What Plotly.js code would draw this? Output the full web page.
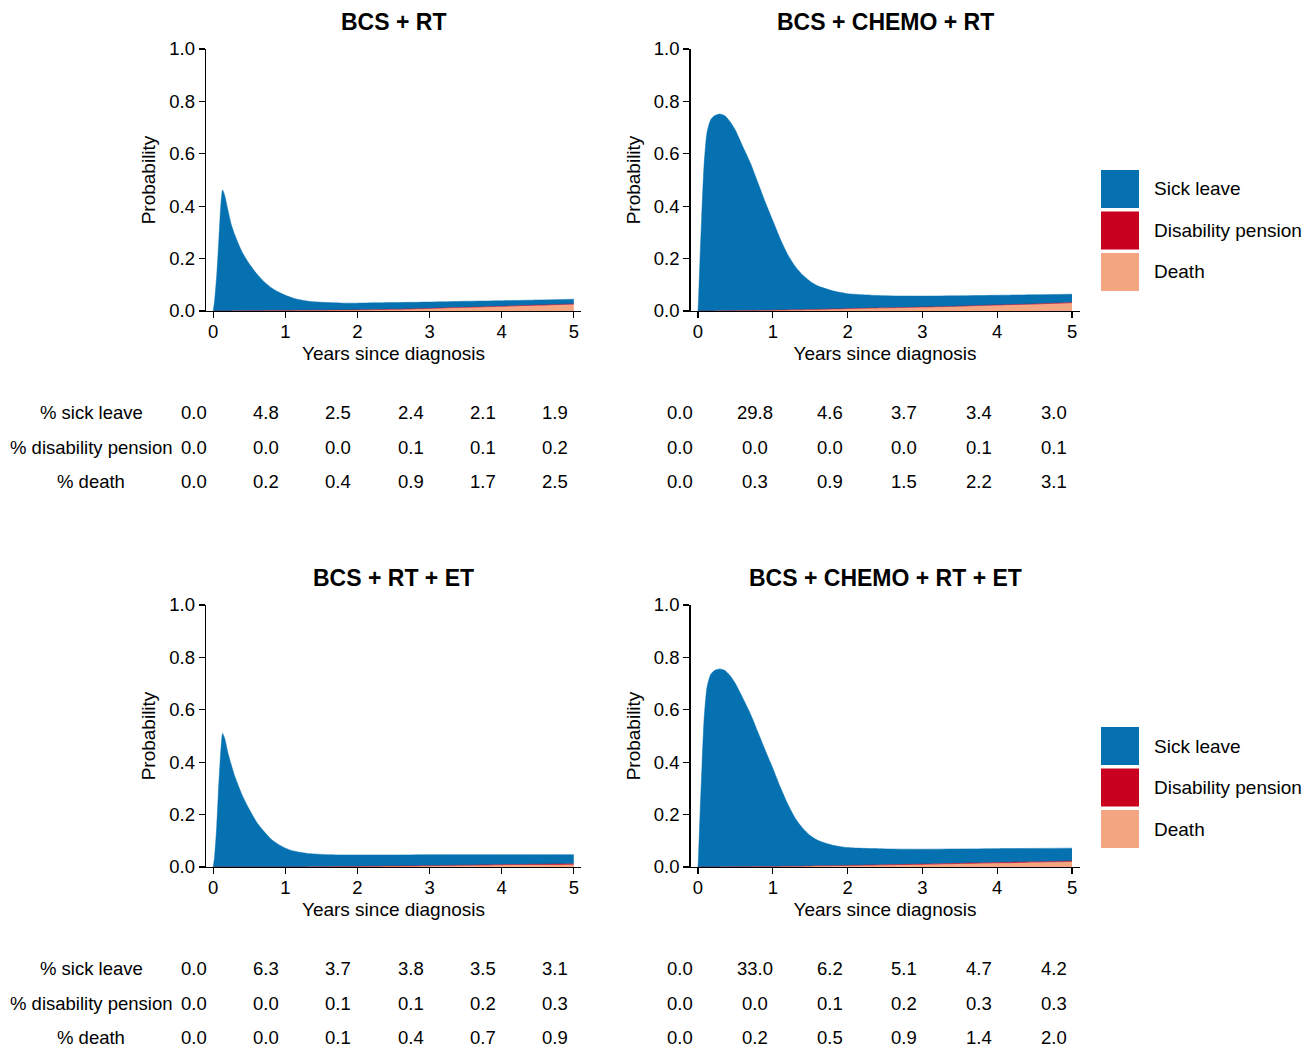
<!DOCTYPE html>
<html>
<head>
<meta charset="utf-8">
<script src="https://cdn.plot.ly/plotly-3.0.1.min.js"></script>
<style>html,body{margin:0;padding:0;background:#fff;}#chart{width:1314px;height:1050px;}</style>
</head>
<body>
<div id="chart"></div>
<script>
// ---------- DATA ----------
const panelTitles = ["BCS + RT", "BCS + CHEMO + RT", "BCS + RT + ET", "BCS + CHEMO + RT + ET"];
const stateNames = ["Sick leave", "Disability pension", "Death"];
const rowLabels = ["% sick leave", "% disability pension", "% death"];
const tableYears = [0, 1, 2, 3, 4, 5];

// time grids (years since diagnosis)
const tA = [0,0.02,0.05,0.08,0.11,0.13,0.16,0.2,0.25,0.3,0.4,0.5,0.6,0.7,0.8,0.9,1.0,1.1,1.2,1.3,1.4,1.6,1.8,2.0,2.5,3.0,3.5,4.0,4.5,5.0];
const tB = [0,0.01,0.03,0.05,0.08,0.12,0.17,0.22,0.29,0.36,0.43,0.5,0.6,0.7,0.8,0.9,1.0,1.1,1.2,1.3,1.4,1.5,1.6,1.8,2.0,2.5,3.0,3.5,4.0,4.5,5.0];

// BCS + RT
const sick1  = [0,0.04,0.14,0.28,0.42,0.462,0.44,0.39,0.3297,0.2895,0.2242,0.179,0.1418,0.1116,0.0884,0.0712,0.058,0.0478,0.0406,0.0354,0.0322,0.029,0.0265,0.026,0.0255,0.024,0.023,0.021,0.0195,0.018];
const dis1   = [0,0,0,0,0,0,0,0,0,0,0,0,0,0,0,0,0,0,0,0,0,0,0,0,0.0005,0.001,0.001,0.001,0.0015,0.002];
const death1 = [0,0,0,0,0,0,0,0,0.0003,0.0005,0.0008,0.001,0.0012,0.0014,0.0016,0.0018,0.002,0.0022,0.0024,0.0026,0.0028,0.003,0.0035,0.004,0.006,0.009,0.013,0.017,0.021,0.025];

// BCS + CHEMO + RT
const sick2  = [0,0.06,0.22,0.36,0.55,0.68,0.73,0.745,0.7515,0.7443,0.721,0.6888,0.6255,0.5632,0.488,0.4125,0.342,0.2715,0.211,0.1655,0.132,0.1075,0.09,0.0695,0.057,0.046,0.042,0.0395,0.037,0.035,0.032];
const dis2   = [0,0,0,0,0,0,0,0,0,0,0,0,0,0,0,0,0,0,0,0,0,0,0,0,0,0,0,0.0005,0.001,0.001,0.001];
const death2 = [0,0,0,0,0,0,0,0,0.0005,0.0007,0.001,0.0012,0.0015,0.0018,0.002,0.0025,0.003,0.0035,0.004,0.0045,0.005,0.0055,0.006,0.0075,0.009,0.012,0.015,0.018,0.022,0.026,0.031];

// BCS + RT + ET
const sick3  = [0,0.04,0.16,0.33,0.46,0.51,0.49,0.44,0.39,0.345,0.275,0.22,0.172,0.137,0.107,0.087,0.072,0.0618,0.0557,0.0516,0.0495,0.0458,0.0443,0.044,0.0425,0.042,0.04,0.038,0.0365,0.035];
const dis3   = [0,0,0,0,0,0,0,0,0,0,0,0,0,0,0,0,0,0,0,0,0,0.0005,0.0008,0.001,0.001,0.001,0.0015,0.002,0.0025,0.003];
const death3 = [0,0,0,0,0,0,0,0,0,0,0,0,0,0,0,0,0,0.0002,0.0003,0.0004,0.0005,0.0007,0.0009,0.001,0.0025,0.004,0.0055,0.007,0.008,0.009];

// BCS + CHEMO + RT + ET
const sick4  = [0,0.06,0.22,0.36,0.555,0.685,0.735,0.75,0.7556,0.7494,0.7292,0.699,0.6428,0.5836,0.5134,0.4432,0.375,0.3027,0.2374,0.1831,0.1448,0.1165,0.0977,0.0778,0.068,0.0605,0.057,0.055,0.053,0.051,0.049];
const dis4   = [0,0,0,0,0,0,0,0,0,0,0,0,0,0,0,0,0,0,0,0,0,0,0.0005,0.0008,0.001,0.0015,0.002,0.0025,0.003,0.003,0.003];
const death4 = [0,0,0,0,0,0,0,0,0.0004,0.0006,0.0008,0.001,0.0012,0.0014,0.0016,0.0018,0.002,0.0023,0.0026,0.0029,0.0032,0.0035,0.0038,0.0044,0.005,0.007,0.009,0.0115,0.014,0.017,0.02];

// tables (%)
const tabSick1 = [0.0, 4.8, 2.5, 2.4, 2.1, 1.9];
const tabDis1  = [0.0, 0.0, 0.0, 0.1, 0.1, 0.2];
const tabDeath1= [0.0, 0.2, 0.4, 0.9, 1.7, 2.5];
const tabSick2 = [0.0, 29.8, 4.6, 3.7, 3.4, 3.0];
const tabDis2  = [0.0, 0.0, 0.0, 0.0, 0.1, 0.1];
const tabDeath2= [0.0, 0.3, 0.9, 1.5, 2.2, 3.1];
const tabSick3 = [0.0, 6.3, 3.7, 3.8, 3.5, 3.1];
const tabDis3  = [0.0, 0.0, 0.1, 0.1, 0.2, 0.3];
const tabDeath3= [0.0, 0.0, 0.1, 0.4, 0.7, 0.9];
const tabSick4 = [0.0, 33.0, 6.2, 5.1, 4.7, 4.2];
const tabDis4  = [0.0, 0.0, 0.1, 0.2, 0.3, 0.3];
const tabDeath4= [0.0, 0.2, 0.5, 0.9, 1.4, 2.0];

// ---------- BUILD ----------
const W = 1314, H = 1050;
const colors = {sick: "#0571b0", dis: "#ca0020", death: "#f4a582"};
const FONT = "Liberation Sans, Arial, Helvetica, sans-serif";
const FS = 18.5;
const px = v => v / W;
const py = v => 1 - v / H;

const panels = [
  {t: tA, sick: sick1, dis: dis1, death: death1, tab: [tabSick1, tabDis1, tabDeath1], xd: [206, 581], yd: [49, 311], rows: [412, 447, 481], labels: true, xs: -19},
  {t: tB, sick: sick2, dis: dis2, death: death2, tab: [tabSick2, tabDis2, tabDeath2], xd: [690.5, 1079.5], yd: [49, 311], rows: [412, 447, 481], labels: false, xs: -18},
  {t: tA, sick: sick3, dis: dis3, death: death3, tab: [tabSick3, tabDis3, tabDeath3], xd: [206, 581], yd: [605, 867], rows: [968, 1003, 1037], labels: true, xs: -19},
  {t: tB, sick: sick4, dis: dis4, death: death4, tab: [tabSick4, tabDis4, tabDeath4], xd: [690.5, 1079.5], yd: [605, 867], rows: [968, 1003, 1037], labels: false, xs: -18}
];

const traces = [];
const layout = {
  width: W, height: H,
  margin: {l: 0, r: 0, t: 0, b: 0},
  paper_bgcolor: "#fff", plot_bgcolor: "#fff",
  showlegend: false,
  font: {family: FONT, size: FS, color: "#000"},
  annotations: [], shapes: []
};

panels.forEach((p, i) => {
  const n = i + 1;
  const xa = n === 1 ? "x" : "x" + n;
  const ya = n === 1 ? "y" : "y" + n;
  const sg = "s" + n;
  const common = {x: p.t, xaxis: xa, yaxis: ya, stackgroup: sg, mode: "lines", hoverinfo: "skip"};
  traces.push(Object.assign({}, common, {y: p.death, name: stateNames[2], fillcolor: colors.death, line: {color: colors.death, width: 0.5, shape: "spline", smoothing: 0.6}}));
  traces.push(Object.assign({}, common, {y: p.dis, name: stateNames[1], fillcolor: colors.dis, line: {color: colors.dis, width: 0.5, shape: "spline", smoothing: 0.6}}));
  traces.push(Object.assign({}, common, {y: p.sick, name: stateNames[0], fillcolor: colors.sick, line: {color: colors.sick, width: 0.5, shape: "spline", smoothing: 0.6}}));

  const xk = n === 1 ? "xaxis" : "xaxis" + n;
  const yk = n === 1 ? "yaxis" : "yaxis" + n;
  layout[xk] = {
    domain: [px(p.xd[0]), px(p.xd[1])], anchor: ya, range: [-0.1, 5.1],
    tickvals: tableYears, ticks: "outside", ticklen: 6, tickwidth: 1.3, tickcolor: "#000",
    ticklabelstandoff: -3,
    showline: true, linecolor: "#000", linewidth: 1.3, showgrid: false, zeroline: false,
    tickfont: {size: FS, family: FONT}, fixedrange: true,
    title: {text: "Years since diagnosis", font: {size: 19, family: FONT}, standoff: 6}
  };
  layout[yk] = {
    domain: [py(p.yd[1]), py(p.yd[0])], anchor: xa, range: [0, 1],
    tickvals: [0, 0.2, 0.4, 0.6, 0.8, 1.0], tickformat: ".1f", ticks: "outside", ticklen: 6, tickwidth: 1.3, tickcolor: "#000",
    showline: true, linecolor: "#000", linewidth: 1.3, showgrid: false, zeroline: false,
    tickfont: {size: FS, family: FONT}, fixedrange: true,
    title: {text: "Probability", font: {size: 19, family: FONT}, standoff: 8}
  };

  // panel title
  layout.annotations.push({
    text: "<b>" + panelTitles[i] + "</b>", xref: "paper", yref: "paper",
    x: px((p.xd[0] + p.xd[1]) / 2), y: py(p.yd[0] - 27), xanchor: "center", yanchor: "middle",
    showarrow: false, font: {size: 23, family: FONT}
  });

  // table
  p.tab.forEach((row, r) => {
    if (p.labels) {
      layout.annotations.push({
        text: rowLabels[r], xref: "paper", yref: "paper", x: px(91), y: py(p.rows[r]),
        xanchor: "center", yanchor: "middle", showarrow: false, font: {size: FS, family: FONT}
      });
    }
    row.forEach((v, k) => {
      layout.annotations.push({
        text: v.toFixed(1), xref: xa, yref: "paper", x: tableYears[k], y: py(p.rows[r]),
        xshift: p.xs, xanchor: "center", yanchor: "middle", showarrow: false, font: {size: FS, family: FONT}
      });
    });
  });
});

// legends (one per row of panels)
const legendTops = [170, 727];
const legendColors = [colors.sick, colors.dis, colors.death];
legendTops.forEach(top => {
  stateNames.forEach((nm, j) => {
    const y0 = top + j * 41.5;
    layout.shapes.push({
      type: "rect", xref: "paper", yref: "paper",
      x0: px(1101), x1: px(1139), y0: py(y0 + 38), y1: py(y0),
      fillcolor: legendColors[j], line: {width: 0}
    });
    layout.annotations.push({
      text: nm, xref: "paper", yref: "paper", x: px(1152), y: py(y0 + 19),
      xanchor: "left", yanchor: "middle", showarrow: false, font: {size: 19, family: FONT}
    });
  });
});

Plotly.newPlot("chart", traces, layout, {displayModeBar: false, staticPlot: true});
</script>
</body>
</html>
